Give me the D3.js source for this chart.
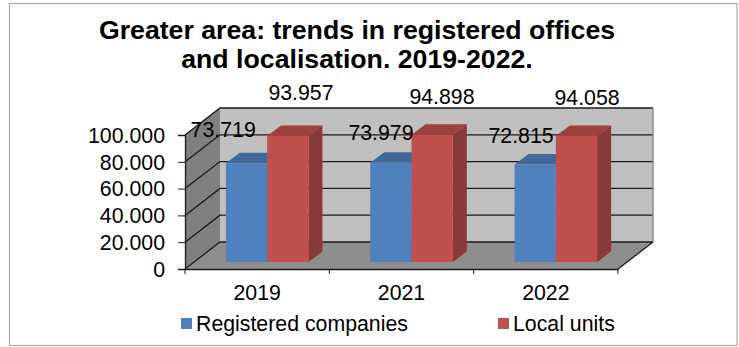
<!DOCTYPE html>
<html>
<head>
<meta charset="utf-8">
<script src="https://cdn.jsdelivr.net/npm/d3@7"></script>
<style>
html,body{margin:0;padding:0;background:#fff}
text{font-family:"Liberation Sans",Arial,sans-serif;fill:#000}
</style>
</head>
<body>
<svg id="chart" width="739" height="347" style="display:block"></svg>
<script>
const categories = ["2019", "2021", "2022"];
const seriesNames = ["Registered companies", "Local units"];
const registeredCompanies = [73719, 73979, 72815];
const localUnits = [93957, 94898, 94058];
const yTicks = [0, 20000, 40000, 60000, 80000, 100000];
const seriesColors = ["#4F81BD", "#C0504D"];
const titleLines = ["Greater area: trends in registered offices", "and localisation. 2019-2022."];

const svg = d3.select("#chart");
const fmt = d3.format(",");
const dotted = v => fmt(v).replace(/,/g, ".");

// Front plane of the 3D box, and the offset to its back wall
const x = d3.scaleBand().domain(categories).range([185, 618]);
const y = d3.scaleLinear().domain([0, 100000]).range([269, 135]);
const depth = { dx: 35, dy: -27 };
// Bars stand on a plane set slightly back from the front edge
const barPlane = { dx: 10, dy: -7 };
const barDepth = { dx: 14, dy: -10.5 };
const barW = 41.3;
const labelSize = 21.3;

// Hand-placed data label offsets from the bar group centre and the bar top
const registeredLabelOffset = [[-44, -26], [-30.5, -23], [-34.8, -21]];
const localLabelOffset = [[33.8, -36], [30.5, -31], [31.2, -31]];

const path = pts => d3.line()(pts) + "Z";

// Outer chart frame
svg.append("rect").attr("x", 9.5).attr("y", 3.5).attr("width", 727.5).attr("height", 342)
  .attr("fill", "#fff").attr("stroke", "#aaaaaa").attr("stroke-width", 1.2);

const [x0, x1] = x.range();
const y0 = y(0), yTop = y(100000);

// Back wall
svg.append("path").attr("fill", "#C0C0C0")
  .attr("d", path([[x0 + depth.dx, y0 + depth.dy], [x1 + depth.dx, y0 + depth.dy], [x1 + depth.dx, yTop + depth.dy], [x0 + depth.dx, yTop + depth.dy]]));
// Left wall
svg.append("path").attr("fill", "#808080")
  .attr("d", path([[x0, y0], [x0 + depth.dx, y0 + depth.dy], [x0 + depth.dx, yTop + depth.dy], [x0, yTop]]));
// Floor
svg.append("path").attr("fill", "#8E8E8E")
  .attr("d", path([[x0, y0], [x1, y0], [x1 + depth.dx, y0 + depth.dy], [x0 + depth.dx, y0 + depth.dy]]));

// Gridlines run along the left wall and across the back wall
const grid = svg.append("g").attr("fill", "none").attr("stroke", "#1a1a1a").attr("stroke-width", 1.3);
yTicks.forEach(t => {
  grid.append("path").attr("d", d3.line()([[x0, y(t)], [x0 + depth.dx, y(t) + depth.dy], [x1 + depth.dx, y(t) + depth.dy]]));
});
// Box edges
grid.append("path").attr("stroke", "#808080").attr("d", d3.line()([[x1 + depth.dx, y0 + depth.dy], [x1 + depth.dx, yTop + depth.dy]]));
grid.append("path").attr("d", d3.line()([[x1, y0], [x1 + depth.dx, y0 + depth.dy]]));

// Value axis
const yAxis = d3.axisLeft(y).tickValues(yTicks).tickFormat(dotted).tickSize(7).tickPadding(13);
const yG = svg.append("g").attr("transform", `translate(${x0},0)`).call(yAxis);
yG.selectAll("text").attr("font-size", labelSize).attr("fill", "#000").attr("dy", "0.34em");
yG.selectAll("line").attr("stroke", "#1a1a1a");
yG.select(".domain").attr("stroke", "#1a1a1a").attr("stroke-width", 1.3);

// Category axis with ticks at the band boundaries
const xG = svg.append("g").attr("transform", `translate(0,${y0})`)
  .call(d3.axisBottom(x).tickSize(0).tickPadding(16));
xG.selectAll("text").attr("font-size", labelSize).attr("fill", "#000");
xG.select(".domain").attr("stroke", "#1a1a1a").attr("stroke-width", 1.5);
const boundaries = [...categories.map(c => x(c)), x1];
xG.selectAll("line.bound").data(boundaries).join("line").attr("class", "bound")
  .attr("x1", d => d).attr("x2", d => d).attr("y1", 0).attr("y2", 5).attr("stroke", "#1a1a1a");

// 3D bars: side, top, then front face
function bar(cat, value, seriesIndex) {
  const color = d3.color(seriesColors[seriesIndex]);
  const cx = x(cat) + x.bandwidth() / 2 + barPlane.dx;
  const l = cx + (seriesIndex - 1) * barW, r = l + barW;
  const b = y(0) + barPlane.dy, t = y(value) + barPlane.dy;
  const d = barDepth;
  const g = svg.append("g");
  g.append("path").attr("fill", color.darker(0.95))
    .attr("d", path([[r, b], [r + d.dx, b + d.dy], [r + d.dx, t + d.dy], [r, t]]));
  g.append("path").attr("fill", color.darker(0.6))
    .attr("d", path([[l, t], [r, t], [r + d.dx, t + d.dy], [l + d.dx, t + d.dy]]));
  g.append("path").attr("fill", color)
    .attr("d", path([[l, b], [r, b], [r, t], [l, t]]));
}
categories.forEach((c, i) => {
  bar(c, registeredCompanies[i], 0);
  bar(c, localUnits[i], 1);
});

// Value labels above each bar
categories.forEach((c, i) => {
  const cx = x(c) + x.bandwidth() / 2 + barPlane.dx;
  svg.append("text").attr("x", cx + registeredLabelOffset[i][0])
    .attr("y", y(registeredCompanies[i]) + barPlane.dy + registeredLabelOffset[i][1])
    .attr("font-size", labelSize).attr("text-anchor", "middle").text(dotted(registeredCompanies[i]));
  svg.append("text").attr("x", cx + localLabelOffset[i][0])
    .attr("y", y(localUnits[i]) + barPlane.dy + localLabelOffset[i][1])
    .attr("font-size", labelSize).attr("text-anchor", "middle").text(dotted(localUnits[i]));
});

// Title
svg.append("text").attr("x", 357).attr("y", 39).attr("text-anchor", "middle")
  .attr("font-size", 26.7).attr("font-weight", "bold").text(titleLines[0]);
svg.append("text").attr("x", 357).attr("y", 68).attr("text-anchor", "middle")
  .attr("font-size", 26.7).attr("font-weight", "bold").text(titleLines[1]);

// Legend
const legendX = [181, 498];
seriesNames.forEach((n, i) => {
  svg.append("rect").attr("x", legendX[i]).attr("y", 318).attr("width", 11).attr("height", 11).attr("fill", seriesColors[i]);
  svg.append("text").attr("x", legendX[i] + 15).attr("y", 331).attr("font-size", labelSize).text(n);
});
</script>
</body>
</html>
